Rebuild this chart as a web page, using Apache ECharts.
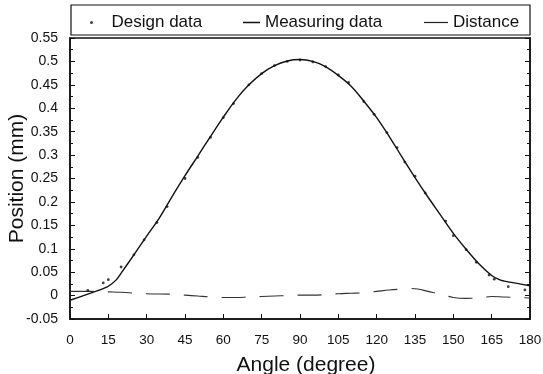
<!DOCTYPE html>
<html>
<head>
<meta charset="utf-8">
<script src="https://cdn.jsdelivr.net/npm/echarts@6/dist/echarts.min.js"></script>
<style>
html,body{margin:0;padding:0;background:#fff;}
#chart{width:543px;height:374px;}
</style>
</head>
<body>
<div id="chart"></div>
<script>
// ---- data ----
const xTicks = [0, 15, 30, 45, 60, 75, 90, 105, 120, 135, 150, 165, 180];
const yTicks = [-0.05, 0, 0.05, 0.1, 0.15, 0.2, 0.25, 0.3, 0.35, 0.4, 0.45, 0.5, 0.55];

const measureAngle = [0, 5, 10, 13, 15, 18, 20, 25, 30, 35, 40, 45, 50, 55, 60, 65, 70, 75, 80, 85, 90,
  95, 100, 105, 110, 115, 120, 125, 130, 135, 140, 145, 150, 155, 160, 165, 168, 170, 175, 180];
const measureValue = [-0.010, -0.0005, 0.009, 0.015, 0.020, 0.033, 0.048, 0.087, 0.127, 0.166, 0.212, 0.256, 0.298, 0.340, 0.381, 0.419, 0.450, 0.474, 0.491, 0.501, 0.504,
  0.500, 0.489, 0.470, 0.447, 0.415, 0.380, 0.339, 0.295, 0.252, 0.211, 0.172, 0.133, 0.099, 0.068, 0.043, 0.034, 0.031, 0.026, 0.021];

const designAngle = [7, 13, 15, 20, 25, 29, 34, 38, 45, 50, 55, 60, 64, 70, 75, 80, 85, 90, 95, 100, 105, 109, 115, 119, 124, 128, 131, 135, 139, 147, 150, 155, 159, 164, 166, 171.5, 178];
const designValue = [0.011, 0.027, 0.034, 0.061, 0.087, 0.119, 0.156, 0.190, 0.250, 0.295, 0.338, 0.380, 0.410, 0.450, 0.474, 0.491, 0.500, 0.503, 0.499, 0.489, 0.471, 0.455, 0.414, 0.387, 0.348, 0.316, 0.285, 0.255, 0.219, 0.159, 0.128, 0.098, 0.071, 0.044, 0.035, 0.019, 0.012];

const distanceAngle = [0, 5, 10, 15, 20, 30, 40, 45, 50, 55, 60, 65, 70, 75, 80, 85, 90, 95, 100, 105, 110, 115, 120, 125, 130, 133, 136, 140, 145, 150, 155, 160, 165, 170, 175, 180];
const distanceValue = [0.009, 0.009, 0.009, 0.008, 0.007, 0.004, 0.003, 0.001, -0.001, -0.003, -0.004, -0.004, -0.003, -0.002, -0.001, 0.000, 0.001, 0.001, 0.002, 0.004, 0.005, 0.006, 0.009, 0.012, 0.014, 0.015, 0.014, 0.009, 0.003, -0.004, -0.006, -0.005, -0.002, -0.003, -0.004, -0.005];

const seriesNames = ['Design data', 'Measuring data', 'Distance'];

const zip = (a, b) => a.map((v, i) => [v, b[i]]);
const FONT = "'Liberation Sans', Arial, Helvetica, sans-serif";

const chart = echarts.init(document.getElementById('chart'), null, {renderer: 'canvas'});
const yInterval = 0.05;
const yAxisBase = {
  type: 'value',
  min: yTicks[0],
  max: yTicks[yTicks.length - 1],
  interval: yInterval,
  splitLine: {show: false},
  axisLine: {show: true, lineStyle: {color: '#111', width: 1.5}},
  axisTick: {show: true, inside: true, length: 5, lineStyle: {color: '#111', width: 1}},
  minorTick: {show: true, splitNumber: 2, length: 3, lineStyle: {color: '#111', width: 1}},
};

const legendCommon = {
  top: 14,
  padding: 0,
  selectedMode: false,
  textStyle: {fontFamily: FONT, fontSize: 17, color: '#111'},
};

chart.setOption({
  animation: false,
  backgroundColor: '#fff',
  grid: {left: 70, right: 13, top: 38, bottom: 55, show: true, borderColor: '#111', borderWidth: 1.5,
    containLabel: false, outerBoundsMode: 'none'},
  graphic: [{
    type: 'rect',
    shape: {x: 71, y: 5, width: 459, height: 30},
    style: {fill: 'none', stroke: '#111', lineWidth: 1.2},
    silent: true
  }],
  legend: [
    Object.assign({}, legendCommon, {left: 90, itemWidth: 30, itemHeight: 3,
      data: [{name: seriesNames[0], icon: 'circle'}]}),
    Object.assign({}, legendCommon, {left: 243, itemWidth: 17, itemHeight: 1.5,
      data: [{name: seriesNames[1], icon: 'rect'}]}),
    Object.assign({}, legendCommon, {left: 424, itemWidth: 24, itemHeight: 1.2,
      data: [{name: seriesNames[2], icon: 'rect', itemStyle: {color: '#222'}}]})
  ],
  xAxis: {
    type: 'value',
    min: xTicks[0],
    max: xTicks[xTicks.length - 1],
    interval: xTicks[1] - xTicks[0],
    name: 'Angle (degree)',
    nameLocation: 'middle',
    nameGap: 36,
    nameMoveOverlap: false,
    nameTextStyle: {fontFamily: FONT, fontSize: 21, color: '#111', padding: [0, 0, 0, 12]},
    splitLine: {show: false},
    axisLine: {show: true, onZero: false, lineStyle: {color: '#111', width: 1.5}},
    axisTick: {show: true, inside: true, length: 5, lineStyle: {color: '#111', width: 1}},
    axisLabel: {fontFamily: FONT, fontSize: 13.5, color: '#111', margin: 14}
  },
  yAxis: [
    Object.assign({}, yAxisBase, {
      position: 'left',
      name: 'Position (mm)',
      nameLocation: 'middle',
      nameGap: 42,
      nameMoveOverlap: false,
      nameTextStyle: {fontFamily: FONT, fontSize: 21, color: '#111'},
      axisLabel: {fontFamily: FONT, fontSize: 14, color: '#111', margin: 12,
        formatter: v => String(+v.toFixed(2))}
    }),
    Object.assign({}, yAxisBase, {
      position: 'right',
      axisLabel: {show: false}
    })
  ],
  series: [
    {
      name: seriesNames[0],
      type: 'scatter',
      data: zip(designAngle, designValue),
      symbol: 'circle',
      symbolSize: 2.8,
      itemStyle: {color: '#111'},
      z: 3
    },
    {
      name: seriesNames[1],
      type: 'line',
      data: zip(measureAngle, measureValue),
      smooth: 0.35,
      showSymbol: false,
      symbol: 'none',
      lineStyle: {color: '#111', width: 1.4},
      itemStyle: {color: '#111'},
      z: 2
    },
    {
      name: seriesNames[2],
      type: 'line',
      data: zip(distanceAngle, distanceValue),
      smooth: 0.4,
      showSymbol: false,
      symbol: 'none',
      lineStyle: {color: '#333', width: 1.1, type: [24, 14]},
      itemStyle: {color: '#222'},
      z: 2
    }
  ]
});
</script>
</body>
</html>
